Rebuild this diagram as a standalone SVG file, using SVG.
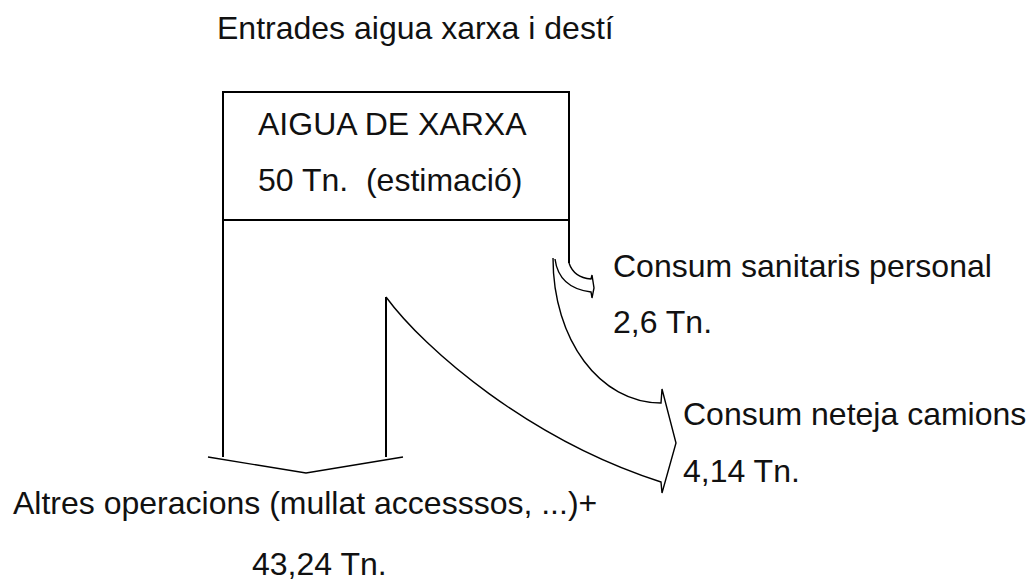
<svg xmlns="http://www.w3.org/2000/svg" width="1034" height="582" viewBox="0 0 1034 582">
<style>
text{font-family:"Liberation Sans",Arial,sans-serif;font-size:32px;fill:#111;white-space:pre}
.box{fill:none;stroke:#000;stroke-width:2}
.flow{fill:none;stroke:#000;stroke-width:1.4;stroke-linejoin:miter}
</style>
<rect width="1034" height="582" fill="#fff"/>
<text id="title" x="217" y="39">Entrades aigua xarxa i destí</text>
<g id="source">
<rect class="box" x="223" y="92" width="346" height="128"/>
<text x="258" y="135">AIGUA DE XARXA</text>
<text x="258" y="191" xml:space="preserve">50 Tn.  (estimació)</text>
</g>
<g id="connectors">
<path class="box" d="M223,220 L223,457"/>
<path class="box" d="M569,220 L569,263"/>
<path class="flow" d="M208,457 L306,473 L403,457"/>
<path class="box" d="M386,457 L386,297"/>
<path class="flow" d="M386,297 C425,350 530,440 661,482 L662,493 L676,443 L662,389 L661,403 C600,403 553,340 553,258"/>
<path class="flow" d="M569,263 C572,272 578,278 591,279 L592,275 L594,288 L592,298 L591,292 C575,290 558,282 555,259"/>
</g>
<g id="sanitaris">
<text x="613" y="277">Consum sanitaris personal</text>
<text x="613" y="333">2,6 Tn.</text>
</g>
<g id="camions">
<text x="683" y="425">Consum neteja camions</text>
<text x="683" y="482">4,14 Tn.</text>
</g>
<g id="altres">
<text x="13" y="514">Altres operacions (mullat accesssos, ...)+</text>
<text x="252" y="575">43,24 Tn.</text>
</g>
</svg>
